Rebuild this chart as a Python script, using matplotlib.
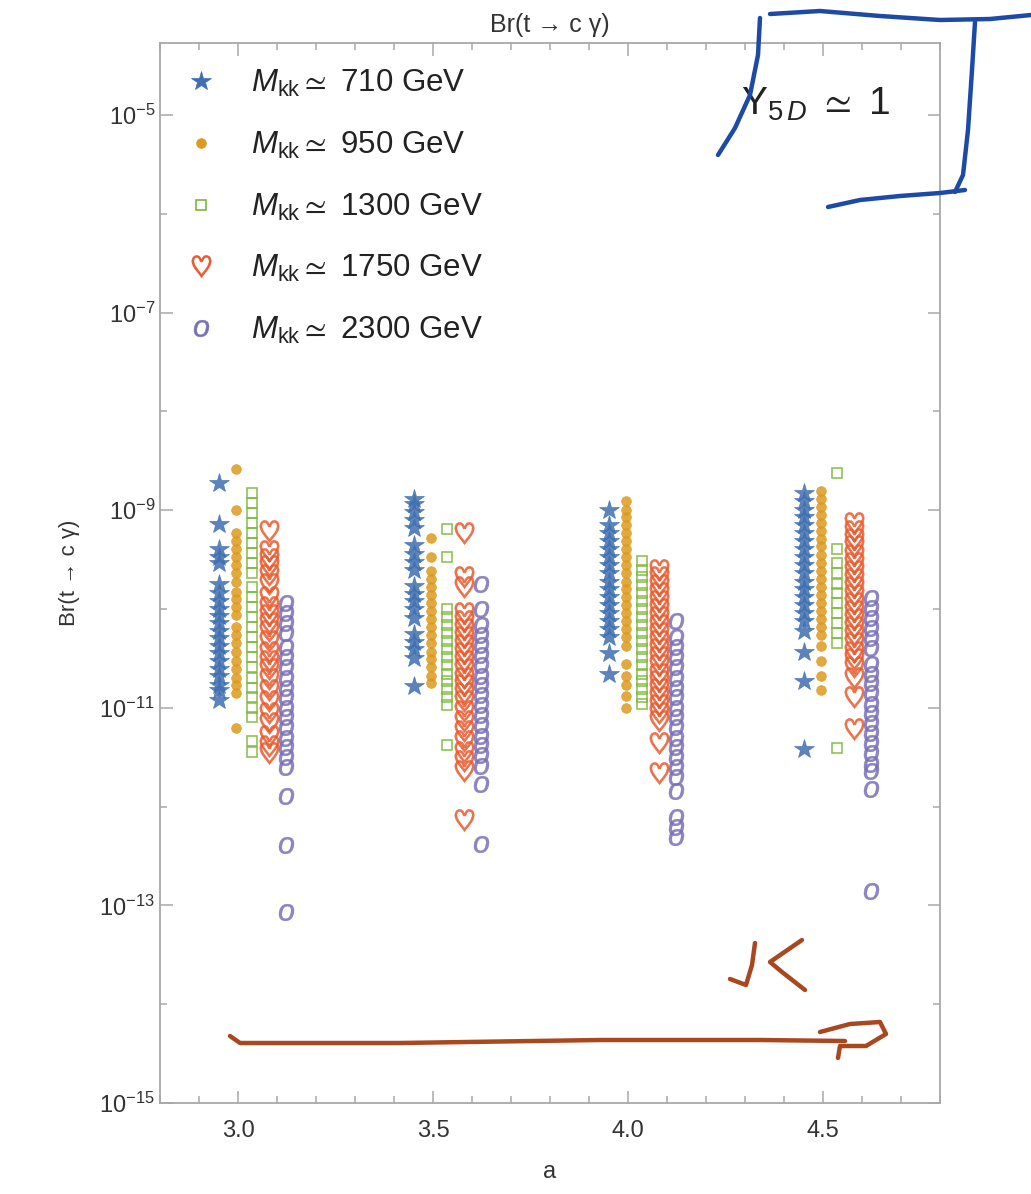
import numpy as np
import matplotlib
matplotlib.use("Agg")
import matplotlib.pyplot as plt
from matplotlib.lines import Line2D
from matplotlib.ticker import FixedLocator, MultipleLocator, LogFormatterSciNotation, NullFormatter

plt.rcParams['font.family'] = ['Liberation Sans', 'DejaVu Sans']
plt.rcParams['mathtext.fontset'] = 'custom'
plt.rcParams['mathtext.rm'] = 'Liberation Sans'
plt.rcParams['mathtext.it'] = 'Liberation Sans:italic'
plt.rcParams['mathtext.fallback'] = 'stixsans'

# groups in a, and small horizontal shift of every mass series
a_vals = [3.0, 3.5, 4.0, 4.5]
labels = ['710', '950', '1300', '1750', '2300']
shifts = [-0.05, -0.004, 0.036, 0.079, 0.123]

# Br values, one list per a group
br_710 = [
    [1.9e-9, 7.3e-10, 4.1e-10, 3.4e-10, 2.9e-10, 1.8e-10, 1.45e-10, 1.2e-10, 1.0e-10, 8.5e-11,
     7.2e-11, 6.0e-11, 5.1e-11, 4.2e-11, 3.6e-11, 3.0e-11, 2.5e-11, 2.1e-11, 1.7e-11, 1.5e-11, 1.2e-11],
    [1.3e-9, 1.15e-9, 9.6e-10, 8.0e-10, 6.6e-10, 4.4e-10, 3.6e-10, 3.0e-10, 2.5e-10, 1.7e-10,
     1.42e-10, 1.2e-10, 1.0e-10, 8.1e-11, 5.6e-11, 4.6e-11, 3.9e-11, 3.2e-11, 1.66e-11],
    [1.0e-9, 7.1e-10, 5.9e-10, 4.9e-10, 4.1e-10, 3.4e-10, 2.8e-10, 2.3e-10, 1.9e-10, 1.6e-10,
     1.32e-10, 1.1e-10, 9.1e-11, 7.6e-11, 6.3e-11, 5.2e-11, 3.6e-11, 2.2e-11],
    [1.5e-9, 1.24e-9, 1.0e-9, 8.6e-10, 7.1e-10, 5.9e-10, 4.9e-10, 4.1e-10, 3.4e-10, 2.8e-10,
     2.3e-10, 1.9e-10, 1.6e-10, 1.32e-10, 1.1e-10, 9.1e-11, 7.6e-11, 6.0e-11, 3.7e-11, 1.86e-11, 3.8e-12],
]
br_950 = [
    [2.6e-9, 1.0e-9, 5.9e-10, 4.9e-10, 4.1e-10, 3.4e-10, 2.8e-10, 2.3e-10, 1.9e-10, 1.5e-10,
     1.26e-10, 1.05e-10, 8.7e-11, 6.6e-11, 5.5e-11, 4.5e-11, 3.7e-11, 3.0e-11, 2.5e-11, 2.0e-11,
     1.7e-11, 1.4e-11, 6.2e-12],
    [5.2e-10, 3.4e-10, 2.4e-10, 2.0e-10, 1.67e-10, 1.39e-10, 1.15e-10, 9.5e-11, 7.9e-11, 6.6e-11,
     5.5e-11, 4.5e-11, 3.7e-11, 3.1e-11, 2.6e-11, 2.1e-11, 1.78e-11],
    [1.24e-9, 1.0e-9, 8.6e-10, 7.1e-10, 5.9e-10, 4.9e-10, 4.1e-10, 3.4e-10, 2.8e-10, 2.3e-10,
     1.9e-10, 1.6e-10, 1.32e-10, 1.1e-10, 9.1e-11, 7.6e-11, 6.3e-11, 5.2e-11, 4.2e-11, 2.8e-11,
     2.1e-11, 1.7e-11, 1.31e-11, 1.0e-11],
    [1.57e-9, 1.31e-9, 1.08e-9, 9.0e-10, 7.4e-10, 6.2e-10, 5.1e-10, 4.3e-10, 3.5e-10, 2.9e-10,
     2.4e-10, 2.0e-10, 1.67e-10, 1.39e-10, 1.15e-10, 9.5e-11, 7.9e-11, 6.6e-11, 5.5e-11, 4.2e-11,
     3.0e-11, 2.1e-11, 1.5e-11],
]
br_1300 = [
    [1.5e-9, 1.19e-9, 9.4e-10, 7.4e-10, 5.9e-10, 4.7e-10, 3.7e-10, 2.9e-10, 2.3e-10, 1.67e-10,
     1.32e-10, 1.05e-10, 8.3e-11, 6.6e-11, 5.2e-11, 4.1e-11, 3.3e-11, 2.6e-11, 2.0e-11, 1.6e-11,
     1.28e-11, 1.0e-11, 8.0e-12, 4.6e-12, 3.6e-12],
    [6.5e-10, 3.4e-10, 1.0e-10, 8.3e-11, 6.9e-11, 5.7e-11, 4.7e-11, 3.9e-11, 3.3e-11, 2.7e-11,
     2.2e-11, 1.86e-11, 1.54e-11, 1.28e-11, 1.06e-11, 4.2e-12],
    [3.1e-10, 2.5e-10, 2.1e-10, 1.75e-10, 1.45e-10, 1.2e-10, 1.0e-10, 8.3e-11, 6.9e-11, 5.7e-11,
     4.7e-11, 3.9e-11, 3.3e-11, 2.7e-11, 2.2e-11, 1.86e-11, 1.54e-11, 1.28e-11, 1.1e-11],
    [2.4e-9, 4.1e-10, 2.9e-10, 2.3e-10, 1.8e-10, 1.45e-10, 1.15e-10, 9.1e-11, 7.2e-11, 5.7e-11,
     4.5e-11, 3.9e-12],
]
br_1750 = [
    [6.2e-10, 3.9e-10, 3.2e-10, 2.7e-10, 2.2e-10, 1.8e-10, 1.32e-10, 1.05e-10, 8.7e-11, 7.2e-11,
     6.0e-11, 4.7e-11, 3.7e-11, 3.0e-11, 2.5e-11, 1.95e-11, 1.5e-11, 1.17e-11, 8.8e-12, 7.0e-12,
     5.2e-12, 4.1e-12, 3.5e-12],
    [5.9e-10, 2.1e-10, 1.67e-10, 9.1e-11, 7.6e-11, 6.3e-11, 5.2e-11, 4.3e-11, 3.6e-11, 3.0e-11,
     2.5e-11, 2.0e-11, 1.7e-11, 1.4e-11, 1.17e-11, 9.2e-12, 7.3e-12, 5.8e-12, 4.6e-12, 3.6e-12,
     2.9e-12, 2.3e-12, 7.4e-13],
    [2.5e-10, 2.1e-10, 1.75e-10, 1.45e-10, 1.2e-10, 1.0e-10, 8.3e-11, 6.9e-11, 5.7e-11, 4.7e-11,
     3.9e-11, 3.3e-11, 2.7e-11, 2.2e-11, 1.86e-11, 1.54e-11, 1.28e-11, 1.06e-11, 8.8e-12, 7.3e-12,
     4.4e-12, 2.2e-12],
    [7.4e-10, 6.2e-10, 5.1e-10, 4.3e-10, 3.5e-10, 2.9e-10, 2.4e-10, 2.0e-10, 1.67e-10, 1.39e-10,
     1.15e-10, 9.5e-11, 7.9e-11, 6.6e-11, 5.5e-11, 4.5e-11, 3.7e-11, 3.1e-11, 2.6e-11, 2.0e-11,
     1.28e-11, 6.1e-12],
]
br_2300 = [
    [1.15e-10, 9.1e-11, 7.2e-11, 5.7e-11, 4.1e-11, 3.3e-11, 2.6e-11, 2.0e-11, 1.6e-11, 1.28e-11,
     1.0e-11, 8.0e-12, 6.4e-12, 5.0e-12, 4.0e-12, 3.2e-12, 2.5e-12, 1.27e-12, 4.1e-13, 8.5e-14],
    [1.8e-10, 1.0e-10, 6.9e-11, 5.5e-11, 4.3e-11, 3.4e-11, 2.7e-11, 2.1e-11, 1.7e-11, 1.34e-11,
     1.06e-11, 8.4e-12, 6.7e-12, 5.2e-12, 4.2e-12, 3.3e-12, 2.6e-12, 1.7e-12, 4.2e-13],
    [7.6e-11, 5.2e-11, 4.1e-11, 3.3e-11, 2.6e-11, 2.0e-11, 1.6e-11, 1.28e-11, 1.0e-11, 8.0e-12,
     6.4e-12, 5.0e-12, 4.0e-12, 3.2e-12, 2.5e-12, 2.0e-12, 1.43e-12, 7.9e-13, 6.2e-13, 4.9e-13],
    [1.29e-10, 1.02e-10, 8.1e-11, 6.4e-11, 5.1e-11, 4.0e-11, 2.8e-11, 2.2e-11, 1.78e-11, 1.4e-11,
     1.1e-11, 8.8e-12, 7.0e-12, 5.5e-12, 4.4e-12, 3.5e-12, 2.7e-12, 2.3e-12, 1.5e-12, 1.4e-13],
]
all_br = [br_710, br_950, br_1300, br_1750, br_2300]

colors = ['#3f6fb0', '#dc9a1e', '#7db83a', '#ea5a2e', '#7a70b8']
styles = [
    dict(marker='*', ms=15, mfc=colors[0], mec=colors[0], mew=0.5),
    dict(marker='o', ms=7, mfc=colors[1], mec=colors[1], mew=0.5),
    dict(marker='s', ms=7, mfc='none', mec=colors[2], mew=1.2),
    dict(marker=r'$\heartsuit$', ms=16, mfc=colors[3], mec=colors[3], mew=0.35),
    dict(marker=r'$o$', ms=12, mfc=colors[4], mec=colors[4], mew=0.35),
]

W, H = 1031, 1194
fig = plt.figure(figsize=(W / 100, H / 100), dpi=100)
ax = fig.add_axes([160 / W, 1 - 1103 / H, 780 / W, 1060 / H])

handles = []
for k in range(5):
    for g, a in enumerate(a_vals):
        ys = all_br[k][g]
        ax.plot(np.full(len(ys), a + shifts[k]), ys, ls='none', alpha=0.85, **styles[k])
    handles.append(Line2D([], [], ls='none', **styles[k]))

ax.set_yscale('log')
ax.set_xlim(2.8, 4.8)
ax.set_ylim(1e-15, 10 ** -4.27)
ax.yaxis.set_major_locator(FixedLocator([1e-15, 1e-13, 1e-11, 1e-9, 1e-7, 1e-5]))
ax.yaxis.set_minor_locator(FixedLocator([1e-14, 1e-12, 1e-10, 1e-8, 1e-6]))
ax.yaxis.set_major_formatter(LogFormatterSciNotation())
ax.yaxis.set_minor_formatter(NullFormatter())
ax.xaxis.set_major_locator(MultipleLocator(0.5))
ax.xaxis.set_minor_locator(MultipleLocator(0.1))
ax.xaxis.set_major_formatter(matplotlib.ticker.FormatStrFormatter('%.1f'))

frame_c = '#a8a8a8'
for s in ax.spines.values():
    s.set_color(frame_c)
    s.set_linewidth(1.3)
ax.tick_params(which='both', direction='in', top=True, right=True, color=frame_c,
               labelcolor='#333333', labelsize=17, width=1.1)
ax.tick_params(which='major', length=9)
ax.tick_params(which='minor', length=5)
ax.tick_params(axis='x', pad=12)

ax.set_xlabel('a', fontsize=17, color='#333333', labelpad=14)
ax.set_ylabel('Br(t → c γ)', fontsize=16, color='#333333', labelpad=14)
ax.set_title('Br(t → c γ)', fontsize=18, color='#333333', pad=8)

leg = ax.legend(handles, [r'$M_{\rm kk} \simeq$ ' + l + ' GeV' for l in labels], loc='upper left',
                frameon=False, fontsize=22.5, labelspacing=0.98, handlelength=1.0,
                handletextpad=1.1, borderaxespad=0.4, borderpad=0.4)
for t in leg.get_texts():
    t.set_color('#222222')

ax.text(0.745, 0.932, r'Y$_{5\,D}$ $\simeq$ 1', transform=ax.transAxes, fontsize=28, color='#222222')

# hand drawn pen strokes on top of the plot (pixel positions of the screenshot)
blue_strokes = [
    [(770, 14), (820, 11), (880, 16), (940, 20), (990, 19), (1031, 15)],
    [(760, 18), (758, 55), (750, 95), (735, 128), (718, 155)],
    [(975, 22), (972, 70), (968, 130), (963, 175), (955, 192)],
    [(828, 207), (860, 200), (900, 196), (940, 193), (965, 190)],
]
brown_strokes = [
    [(230, 1036), (240, 1043), (400, 1043), (600, 1040), (760, 1040), (845, 1041)],
    [(820, 1032), (850, 1024), (880, 1022), (886, 1034), (866, 1046), (840, 1046), (838, 1058)],
    [(755, 943), (752, 965), (746, 985), (730, 979)],
    [(802, 940), (770, 962), (782, 972), (805, 990)],
]
for st, c in [(blue_strokes, '#1d4aa6'), (brown_strokes, '#a9471f')]:
    for pts in st:
        xs = [p[0] / W for p in pts]
        ys = [1 - p[1] / H for p in pts]
        fig.add_artist(Line2D(xs, ys, transform=fig.transFigure, color=c, lw=3.2,
                              solid_capstyle='round', solid_joinstyle='round'))

fig.savefig('out.png', dpi=100)
